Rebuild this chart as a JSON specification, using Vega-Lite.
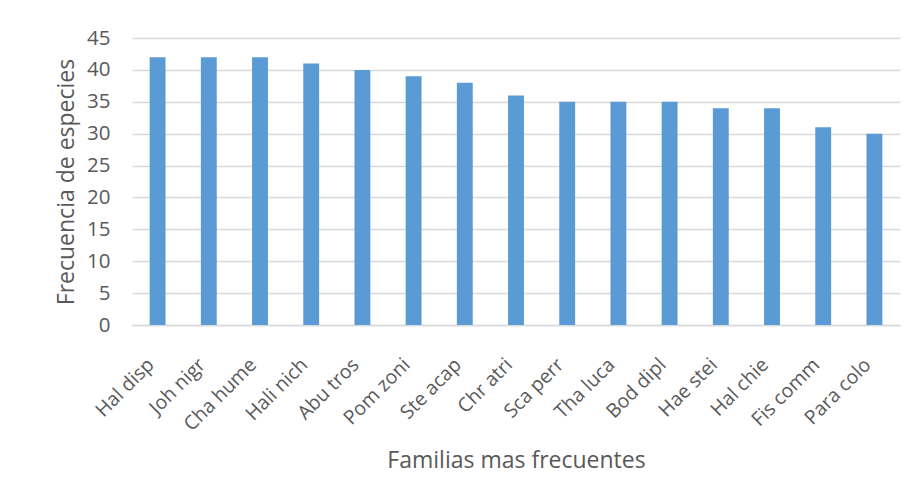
{
  "$schema": "https://vega.github.io/schema/vega-lite/v6.json",
  "autosize": {"type": "none"},
  "width": 768,
  "height": 287,
  "padding": {"left": 132, "top": 38, "right": 17, "bottom": 176},
  "background": "white",
  "config": {
    "view": {"stroke": null},
    "font": "Open Sans",
    "axis": {"labelColor": "#595959", "titleColor": "#595959", "titleFontWeight": "normal"}
  },
  "data": {
    "values": [
      {"especie": "Hal disp", "frecuencia": 42},
      {"especie": "Joh nigr", "frecuencia": 42},
      {"especie": "Cha hume", "frecuencia": 42},
      {"especie": "Hali nich", "frecuencia": 41},
      {"especie": "Abu tros", "frecuencia": 40},
      {"especie": "Pom zoni", "frecuencia": 39},
      {"especie": "Ste acap", "frecuencia": 38},
      {"especie": "Chr atri", "frecuencia": 36},
      {"especie": "Sca perr", "frecuencia": 35},
      {"especie": "Tha luca", "frecuencia": 35},
      {"especie": "Bod dipl", "frecuencia": 35},
      {"especie": "Hae stei", "frecuencia": 34},
      {"especie": "Hal chie", "frecuencia": 34},
      {"especie": "Fis comm", "frecuencia": 31},
      {"especie": "Para colo", "frecuencia": 30}
    ]
  },
  "mark": {"type": "bar", "color": "#5B9BD5"},
  "encoding": {
    "x": {
      "field": "especie", "type": "nominal", "sort": null,
      "scale": {"paddingInner": 0.69, "paddingOuter": 0.345},
      "axis": {
        "title": "Familias mas frecuentes", "titleFontSize": 23, "titlePadding": 16,
        "labelAngle": -45, "labelFontSize": 19.5, "labelPadding": 30, "labelOffset": -13,
        "ticks": false, "domainColor": "#d9d9d9", "domainWidth": 1.5, "grid": false
      }
    },
    "y": {
      "field": "frecuencia", "type": "quantitative",
      "scale": {"domain": [0, 45]},
      "axis": {
        "title": "Frecuencia de especies", "titleFontSize": 23, "titlePadding": 8,
        "values": [0, 5, 10, 15, 20, 25, 30, 35, 40, 45],
        "labelFontSize": 20.5, "labelPadding": 22, "ticks": false, "domain": false,
        "gridColor": "#d9d9d9", "gridWidth": 1.3
      }
    }
  }
}
